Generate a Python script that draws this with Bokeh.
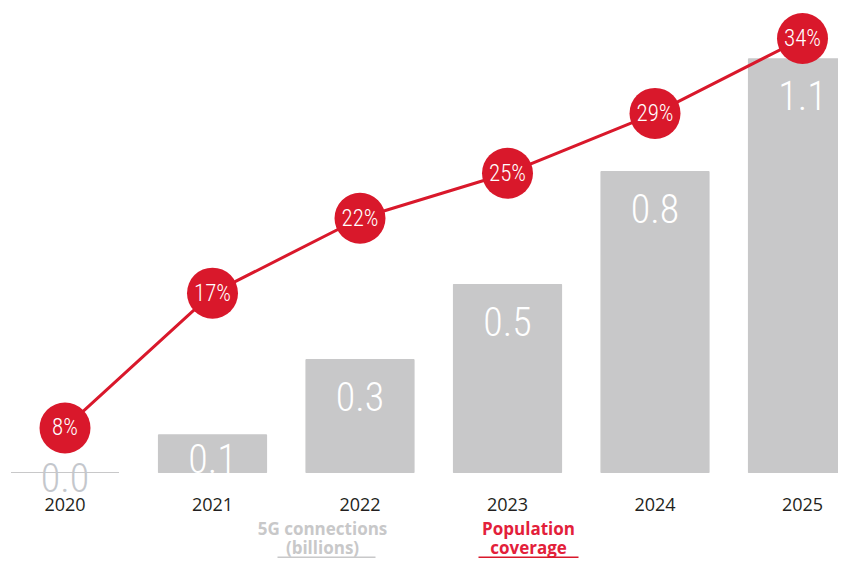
from bokeh.plotting import figure
from bokeh.models import Range1d, Label, BoxAnnotation, ColumnDataSource
from bokeh.core.properties import value
from bokeh.embed import file_html
from bokeh.resources import INLINE

# ---- data ----
years = ["2020", "2021", "2022", "2023", "2024", "2025"]
connections = [0.0, 0.1, 0.3, 0.5, 0.8, 1.1]
connection_labels = ["0.0", "0.1", "0.3", "0.5", "0.8", "1.1"]
coverage = [8, 17, 22, 25, 29, 34]
coverage_labels = ["8%", "17%", "22%", "25%", "29%", "34%"]
legend_connections = ["5G connections", "(billions)"]
legend_coverage = ["Population", "coverage"]

RED = "#d9182b"
GREY = "#c8c8c9"
NARROW = "Roboto Condensed Light, Roboto Condensed, Roboto Light, Roboto"
W, H = 838, 558

idx = list(range(len(years)))
y0, y1 = -0.2287, 1.2553
px_per_unit = H / (y1 - y0)

p = figure(width=W, height=H, output_backend="svg", toolbar_location=None,
           x_range=Range1d(-0.4373, 5.244), y_range=Range1d(y0, y1),
           x_axis_location=None, y_axis_location=None, min_border=0,
           outline_line_color=None, background_fill_color="white",
           border_fill_color="white")
p.extra_y_ranges = {"pct": Range1d(-0.714, 36.535)}
p.xgrid.visible = False
p.ygrid.visible = False

# bars
p.vbar(x=idx, top=connections, bottom=0, width=0.732,
       fill_color=GREY, line_color=GREY, line_width=1.2)

offsets = [min(37.0, v * px_per_unit / 2 + 5) for v in connections]
label_colors = ["white" if v > 0 else "#c4c7cc" for v in connections]
bar_src = ColumnDataSource(dict(x=idx, y=connections, t=connection_labels,
                                off=offsets, c=label_colors))
p.text(x="x", y="y", text="t", y_offset="off", source=bar_src,
       text_color="c", text_font=value(NARROW),
       text_font_size="40px", text_align="center", text_baseline="middle")

# coverage line with circles
p.line(x=idx, y=coverage, y_range_name="pct", line_color=RED, line_width=3)
p.scatter(x=idx, y=coverage, y_range_name="pct", size=51,
          fill_color=RED, line_color=None)
p.text(x=idx, y=coverage, text=coverage_labels, y_range_name="pct",
       text_color="white", text_font=value(NARROW),
       text_font_size="23px", text_align="center", text_baseline="middle")

# year labels
p.text(x=idx, y=[0] * len(idx), text=years, y_offset=32,
       text_color="#231f20", text_font=value("Open Sans"),
       text_font_size="18px", text_align="center", text_baseline="middle")

# legend
for i, t in enumerate(legend_connections):
    p.add_layout(Label(x=322, y=30 - 19 * i, x_units="screen", y_units="screen",
                       text=t, text_align="center", text_baseline="middle",
                       text_color=GREY, text_font="Open Sans",
                       text_font_style="bold", text_font_size="17px"))
for i, t in enumerate(legend_coverage):
    p.add_layout(Label(x=528, y=30 - 19 * i, x_units="screen", y_units="screen",
                       text=t, text_align="center", text_baseline="middle",
                       text_color="#e3203a", text_font="Open Sans",
                       text_font_style="bold", text_font_size="17px"))
p.add_layout(BoxAnnotation(left=277, right=375, bottom=0, top=2,
                           left_units="screen", right_units="screen",
                           bottom_units="screen", top_units="screen",
                           fill_color=GREY, fill_alpha=1, line_color=None))
p.add_layout(BoxAnnotation(left=478, right=578, bottom=0, top=2,
                           left_units="screen", right_units="screen",
                           bottom_units="screen", top_units="screen",
                           fill_color=RED, fill_alpha=1, line_color=None))

open("out.html", "w").write(file_html(p, INLINE))
